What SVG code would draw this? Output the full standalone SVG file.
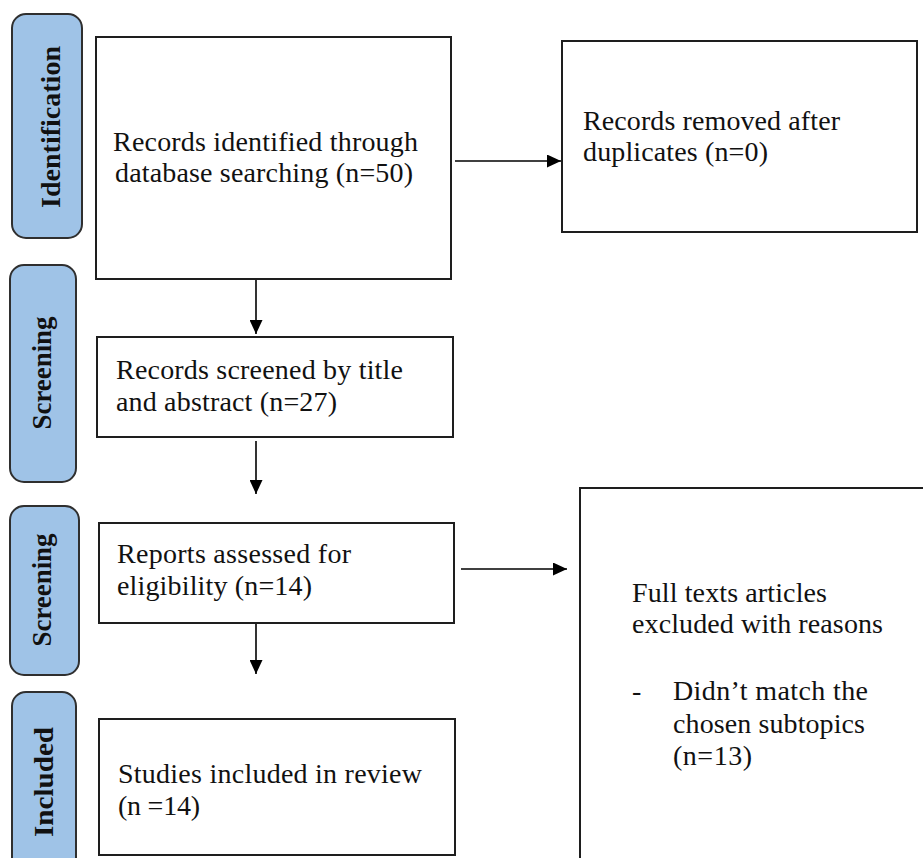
<svg xmlns="http://www.w3.org/2000/svg" width="923" height="858" viewBox="0 0 923 858">
<style>
.pill{fill:#9fc3e7;stroke:#2f2f2f;stroke-width:2}
.box{fill:#fff;stroke:#1e1e1e;stroke-width:2}
.t{font-family:"Liberation Serif","Times New Roman",serif;font-size:28px;fill:#111}
.lbl{font-family:"Liberation Serif","Times New Roman",serif;font-size:28px;font-weight:bold;fill:#111;text-anchor:middle}
.edge{stroke:#000;stroke-width:1.6;fill:none;marker-end:url(#ah)}
</style>
<defs>
<marker id="ah" markerUnits="userSpaceOnUse" markerWidth="15" markerHeight="13" refX="14" refY="6.5" orient="auto">
<path d="M0,0 L14,6.5 L0,13 z" fill="#000"/>
</marker>
</defs>
<rect width="923" height="858" fill="#fff"/>

<g id="stage-identification">
<rect class="pill" x="12" y="14" width="70" height="224" rx="14"/>
<text class="lbl" transform="translate(60,127) rotate(-90)" textLength="162" lengthAdjust="spacingAndGlyphs">Identification</text>
</g>
<g id="stage-screening-1">
<rect class="pill" x="10" y="265" width="66" height="217" rx="14"/>
<text class="lbl" transform="translate(51,373) rotate(-90)" textLength="113" lengthAdjust="spacingAndGlyphs">Screening</text>
</g>
<g id="stage-screening-2">
<rect class="pill" x="10" y="506" width="69" height="169" rx="14"/>
<text class="lbl" transform="translate(51,590) rotate(-90)" textLength="113" lengthAdjust="spacingAndGlyphs">Screening</text>
</g>
<g id="stage-included">
<rect class="pill" x="12" y="692" width="64" height="190" rx="14"/>
<text class="lbl" transform="translate(53,782) rotate(-90)" textLength="110" lengthAdjust="spacingAndGlyphs">Included</text>
</g>

<g id="records-identified">
<rect class="box" x="96" y="37" width="355" height="242"/>
<text class="t" x="113" y="151" textLength="305" lengthAdjust="spacing">Records identified through</text>
<text class="t" x="115" y="182" textLength="298" lengthAdjust="spacing">database searching (n=50)</text>
</g>
<g id="records-removed">
<rect class="box" x="562" y="41" width="355" height="191"/>
<text class="t" x="583" y="130" textLength="257" lengthAdjust="spacing">Records removed after</text>
<text class="t" x="583" y="161" textLength="185" lengthAdjust="spacing">duplicates (n=0)</text>
</g>
<g id="records-screened">
<rect class="box" x="97" y="337" width="356" height="100"/>
<text class="t" x="116" y="379" textLength="287" lengthAdjust="spacing">Records screened by title</text>
<text class="t" x="116" y="411" textLength="221" lengthAdjust="spacing">and abstract (n=27)</text>
</g>
<g id="reports-assessed">
<rect class="box" x="99" y="523" width="355" height="100"/>
<text class="t" x="117" y="563" textLength="234" lengthAdjust="spacing">Reports assessed  for</text>
<text class="t" x="117" y="595" textLength="195" lengthAdjust="spacing">eligibility (n=14)</text>
</g>
<g id="full-texts-excluded">
<rect class="box" x="580" y="488" width="360" height="390"/>
<text class="t" x="632" y="602" textLength="195" lengthAdjust="spacing">Full texts articles</text>
<text class="t" x="632" y="633" textLength="251" lengthAdjust="spacing">excluded with reasons</text>
<text class="t" x="632" y="700">-</text>
<text class="t" x="673" y="700" textLength="195" lengthAdjust="spacing">Didn’t match the</text>
<text class="t" x="673" y="733" textLength="192" lengthAdjust="spacing">chosen subtopics</text>
<text class="t" x="673" y="765" textLength="79" lengthAdjust="spacing">(n=13)</text>
</g>
<g id="studies-included">
<rect class="box" x="99" y="719" width="356" height="136"/>
<text class="t" x="118" y="783" textLength="304" lengthAdjust="spacing">Studies included in review</text>
<text class="t" x="118" y="815" textLength="82" lengthAdjust="spacing">(n =14)</text>
</g>

<g id="connectors">
<line class="edge" x1="455" y1="161" x2="561" y2="161"/>
<line class="edge" x1="256" y1="280" x2="256" y2="334"/>
<line class="edge" x1="256" y1="441" x2="256" y2="494"/>
<line class="edge" x1="256" y1="624" x2="256" y2="674"/>
<line class="edge" x1="461" y1="569" x2="567" y2="569"/>
</g>
</svg>
